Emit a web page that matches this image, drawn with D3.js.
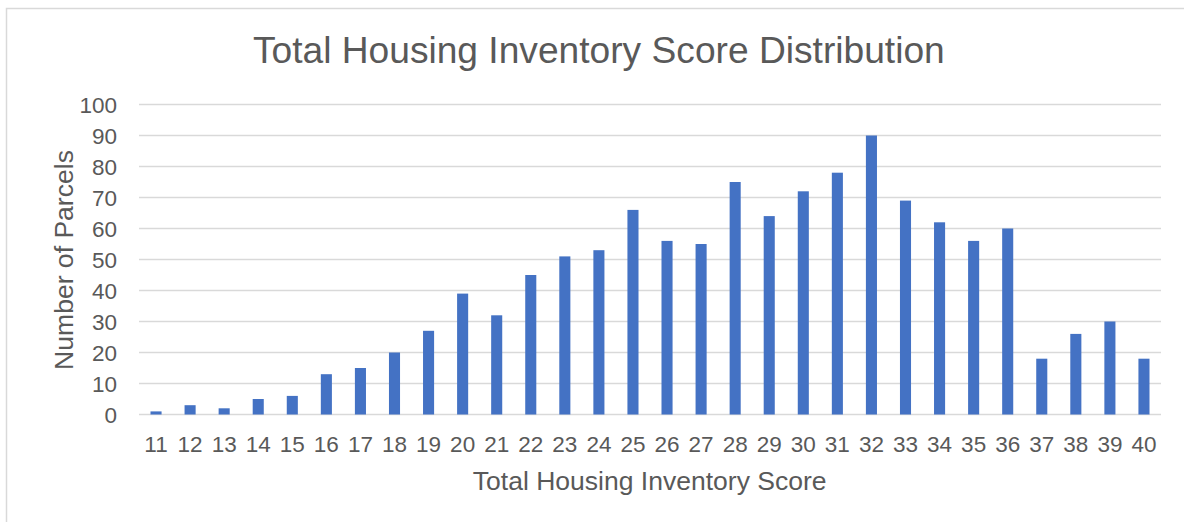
<!DOCTYPE html>
<html><head><meta charset="utf-8">
<script src="https://cdn.jsdelivr.net/npm/d3@7"></script>
<style>
html,body{margin:0;padding:0;background:#fff;}
svg{display:block;font-family:"Liberation Sans",Arial,sans-serif;}
</style></head>
<body>
<svg id="chart" width="1184" height="522"></svg>
<script>
const categories = ["11","12","13","14","15","16","17","18","19","20","21","22","23","24","25","26","27","28","29","30","31","32","33","34","35","36","37","38","39","40"];
const parcels = [1,3,2,5,6,13,15,20,27,39,32,45,51,53,66,56,55,75,64,72,78,90,69,62,56,60,18,26,30,18];
const yTicks = [0,10,20,30,40,50,60,70,80,90,100];
const titleText = "Total Housing Inventory Score Distribution";
const xTitle = "Total Housing Inventory Score";
const yTitle = "Number of Parcels";

(function(){
const svg = d3.select("#chart");
const textColor = "#595959";

// outer border
svg.append("rect").attr("x",6.5).attr("y",8.5).attr("width",1200).attr("height",600)
  .attr("fill","none").attr("stroke","#d9d9d9").attr("stroke-width",1.5);

const pL = 139, pR = 1161, pT = 104.5, pB = 414.5;
const x = d3.scaleBand().domain(categories).range([pL,pR]).paddingInner(0.675).paddingOuter(0.3375);
const y = d3.scaleLinear().domain([0,100]).range([pB,pT]);

// gridlines
svg.append("g").selectAll("line").data(yTicks).join("line")
  .attr("x1",pL).attr("x2",pR)
  .attr("y1",d=>y(d)).attr("y2",d=>y(d))
  .attr("stroke","#d9d9d9").attr("stroke-width",1.5);

// bars
svg.append("g").selectAll("rect").data(parcels).join("rect")
  .attr("x",(d,i)=>x(categories[i]))
  .attr("width",x.bandwidth())
  .attr("y",d=>y(d))
  .attr("height",d=>pB - y(d))
  .attr("fill","#4472c4");

// y axis labels
const yAxis = d3.axisLeft(y).tickValues(yTicks).tickSize(0).tickPadding(0);
const gy = svg.append("g").attr("transform","translate(117,0)").call(yAxis);
gy.select(".domain").remove();
gy.selectAll("text").attr("fill",textColor).attr("font-size",22.5).attr("font-family","Liberation Sans, Arial, sans-serif").attr("dy","0.35em");

// x axis labels
const xAxis = d3.axisBottom(x).tickSize(0).tickPadding(0);
const gx = svg.append("g").attr("transform","translate(0,"+pB+")").call(xAxis);
gx.select(".domain").remove();
gx.selectAll("text").attr("fill",textColor).attr("font-size",22.5).attr("font-family","Liberation Sans, Arial, sans-serif").attr("dy",null).attr("y",37.2);

function fit(sel, target){
  const w = sel.node().getComputedTextLength();
  const fs = parseFloat(sel.attr("font-size"));
  sel.attr("font-size", fs*target/w);
}

// title
const t = svg.append("text").attr("x",(252.7+945)/2).attr("y",63.3).attr("text-anchor","middle")
  .attr("fill",textColor).attr("font-size",37).text(titleText);
fit(t, 692);

// x title
const xt = svg.append("text").attr("x",(472.7+826.7)/2).attr("y",490).attr("text-anchor","middle")
  .attr("fill",textColor).attr("font-size",24).text(xTitle);
fit(xt, 354);

// y title
const yt = svg.append("text").attr("transform","translate(72.5,260) rotate(-90)").attr("text-anchor","middle")
  .attr("fill",textColor).attr("font-size",24).text(yTitle);
fit(yt, 220);
})();
</script>
</body></html>
